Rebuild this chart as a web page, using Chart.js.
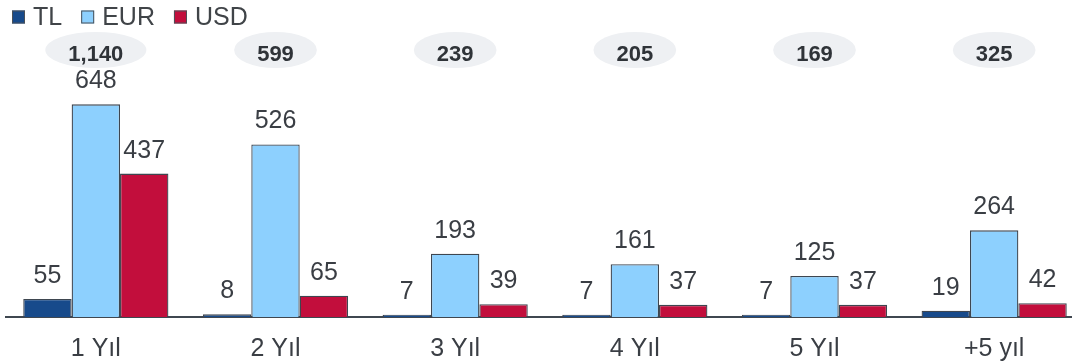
<!DOCTYPE html>
<html>
<head>
<meta charset="utf-8">
<script src="https://cdn.jsdelivr.net/npm/chart.js@4.4.1/dist/chart.umd.min.js"></script>
<style>
  html, body { margin: 0; padding: 0; overflow: hidden; background: #fff; }
  #wrap { width: 1084px; height: 364px; }
</style>
</head>
<body>
<div id="wrap"><canvas id="c" width="1084" height="364"></canvas></div>
<script>
// Maturity buckets and amounts per currency
const categories = ['1 Yıl', '2 Yıl', '3 Yıl', '4 Yıl', '5 Yıl', '+5 yıl'];
const tlValues  = [55, 8, 7, 7, 7, 19];
const eurValues = [648, 526, 193, 161, 125, 264];
const usdValues = [437, 65, 39, 37, 37, 42];

// Bucket totals shown in the grey badges above each group
const totals = categories.map((_, i) => tlValues[i] + eurValues[i] + usdValues[i]);

const FONT = '"Liberation Sans", Arial, Helvetica, sans-serif';
const INK = '#3a3e44';

// Number above each bar
const valueLabels = {
  id: 'valueLabels',
  afterDatasetsDraw(chart) {
    const ctx = chart.ctx;
    ctx.save();
    ctx.font = '25px ' + FONT;
    ctx.fillStyle = INK;
    ctx.textAlign = 'center';
    ctx.textBaseline = 'alphabetic';
    chart.data.datasets.forEach((ds, di) => {
      chart.getDatasetMeta(di).data.forEach((bar, i) => {
        ctx.fillText(String(ds.data[i]), bar.x, bar.y - 16);
      });
    });
    ctx.restore();
  }
};

// Grey oval badges with the total of each bucket
const totalBadges = {
  id: 'totalBadges',
  afterDraw(chart) {
    const ctx = chart.ctx;
    const xs = chart.scales.x;
    ctx.save();
    ctx.font = 'bold 22px ' + FONT;
    ctx.textAlign = 'center';
    ctx.textBaseline = 'alphabetic';
    totals.forEach((t, i) => {
      const txt = t.toLocaleString('en-US');
      const w = ctx.measureText(txt).width;
      const cx = xs.getPixelForValue(i);
      ctx.fillStyle = '#eef0f3';
      ctx.beginPath();
      ctx.ellipse(cx, 50, w / 2 + 23, 18, 0, 0, Math.PI * 2);
      ctx.fill();
      ctx.fillStyle = '#2f3338';
      ctx.fillText(txt, cx, 61);
    });
    ctx.restore();
  }
};

// Legend row in the top-left corner
const legendRow = {
  id: 'legendRow',
  afterDraw(chart) {
    const ctx = chart.ctx;
    ctx.save();
    ctx.font = '25px ' + FONT;
    ctx.textAlign = 'left';
    ctx.textBaseline = 'alphabetic';
    let x = 12;
    chart.data.datasets.forEach(ds => {
      ctx.fillStyle = ds.backgroundColor;
      ctx.fillRect(x, 10.5, 13, 13);
      ctx.strokeStyle = '#4a5058';
      ctx.lineWidth = 1;
      ctx.strokeRect(x + 0.5, 11, 12, 12);
      x += 13 + 8;
      ctx.fillStyle = '#404448';
      ctx.fillText(ds.label, x, 25);
      x += ctx.measureText(ds.label).width + 19;
    });
    ctx.restore();
  }
};

new Chart(document.getElementById('c'), {
  type: 'bar',
  data: {
    labels: categories,
    datasets: [
      { label: 'TL',  data: tlValues,  backgroundColor: '#174a8b' },
      { label: 'EUR', data: eurValues, backgroundColor: '#8dd0fe' },
      { label: 'USD', data: usdValues, backgroundColor: '#c20e3c' }
    ]
  },
  options: {
    responsive: false,
    animation: false,
    devicePixelRatio: 1,
    layout: { padding: { left: 6, right: 0, top: 0, bottom: 0 } },
    datasets: {
      bar: {
        categoryPercentage: 0.808,
        barPercentage: 1,
        borderWidth: 1.3,
        borderColor: '#3e4650'
      }
    },
    plugins: {
      legend: { display: false },
      tooltip: { enabled: false }
    },
    scales: {
      x: {
        grid: { display: false, drawTicks: false },
        border: { display: true, color: '#3f4750', width: 2 },
        ticks: { font: { size: 25, family: FONT }, color: INK, padding: 17 },
        afterFit(scale) { scale.height = 47; }
      },
      y: { display: false, min: 0, max: 966 }
    }
  },
  plugins: [valueLabels, totalBadges, legendRow]
});
</script>
</body>
</html>
